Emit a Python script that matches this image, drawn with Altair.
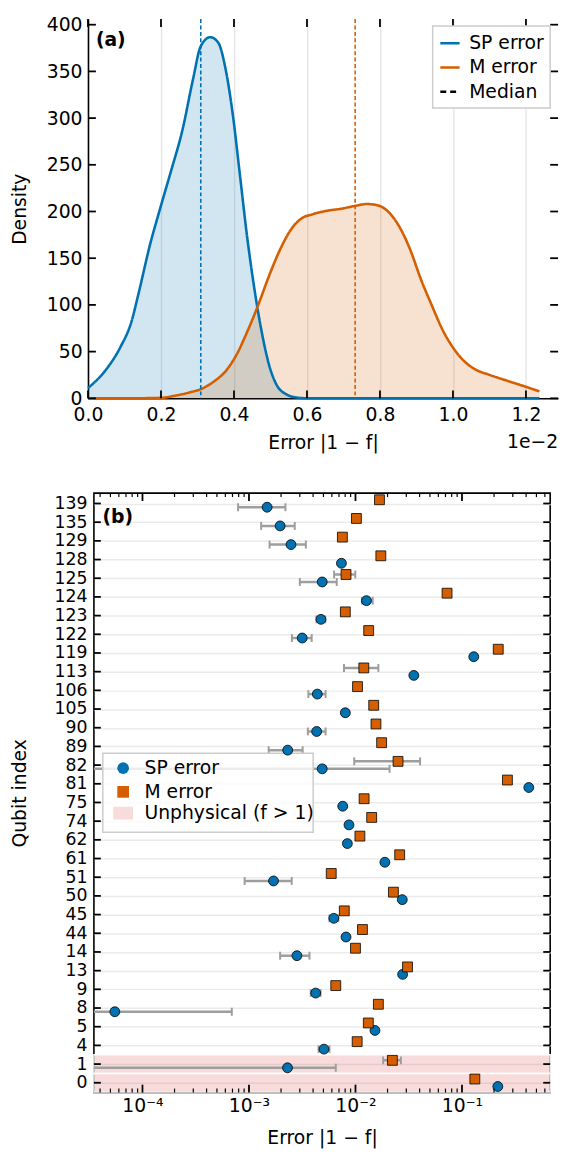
import json
import altair as alt
import pandas as pd

BLUE = "#0072B2"
ORANGE = "#D55E00"
FONT = "DejaVu Sans"

# ---------------- panel (a): density curves (x in units of 1e-2) ----------------
sp_x = [0.0, 0.05, 0.089, 0.119, 0.139, 0.169, 0.199, 0.228, 0.258, 0.288, 0.309, 0.335,
        0.357, 0.377, 0.397, 0.416, 0.436, 0.456, 0.476, 0.496, 0.516, 0.545, 0.575, 0.605,
        0.8, 1.0, 1.237]
sp_y = [11, 31, 55, 82, 113, 163, 205, 244, 286, 342, 377, 386.6,
        380.7, 352.5, 303, 240, 173, 117, 71, 36, 15, 4, 0.7, 0,
        0, 0, 0]
m_x = [0.0, 0.1, 0.2, 0.238, 0.278, 0.309, 0.347, 0.377, 0.407, 0.436, 0.466, 0.496,
       0.526, 0.555, 0.585, 0.615, 0.654, 0.694, 0.732, 0.764, 0.793, 0.823, 0.853,
       0.883, 0.912, 0.942, 0.972, 1.001, 1.031, 1.061, 1.101, 1.150, 1.200, 1.237]
m_y = [0, 0, 0.5, 2.8, 6.3, 9.8, 18.6, 29, 46.7, 71, 99.5, 131,
       159, 180, 192.6, 197, 200.7, 203, 206, 208, 206.7, 199.6, 183.8,
       159, 127.6, 99.5, 73, 53.8, 39.7, 31, 25, 18.6, 12.3, 7.4]
sp_median = 0.309
m_median = 0.732
a_xticks = [0.0, 0.2, 0.4, 0.6, 0.8, 1.0, 1.2]
a_yticks = [0, 50, 100, 150, 200, 250, 300, 350, 400]
a_legend = ["SP error", "M error", "Median"]

# ---------------- panel (b): per-qubit errors ----------------
qubits = ["139", "135", "129", "128", "125", "124", "123", "122", "119", "113", "106",
          "105", "90", "89", "82", "81", "75", "74", "62", "61", "51", "50", "45", "44",
          "14", "13", "9", "8", "5", "4", "1", "0"]
sp_val = [1.48e-3, 1.96e-3, 2.48e-3, 7.38e-3, 4.87e-3, 1.268e-2, 4.74e-3, 3.16e-3, 0.129,
          0.0353, 4.38e-3, 8.03e-3, 4.32e-3, 2.31e-3, 4.87e-3, 0.424, 7.59e-3, 8.69e-3,
          8.39e-3, 0.01888, 1.70e-3, 0.0275, 6.26e-3, 8.15e-3, 2.82e-3, 0.0277, 4.23e-3,
          5.5e-5, 0.01524, 5.06e-3, 2.30e-3, 0.217]
sp_lo = [7.9e-4, 1.30e-3, 1.56e-3, None, 3.0e-3, 1.15e-2, 4.3e-3, 2.53e-3, None, None,
         3.61e-3, None, 3.57e-3, 1.53e-3, 1e-5, None, None, None, None, None, 9.1e-4,
         None, 5.7e-3, None, 1.96e-3, None, 3.8e-3, 1e-5, None, 4.5e-3, 1e-5, None]
sp_hi = [2.2e-3, 2.69e-3, 3.42e-3, None, 6.67e-3, 1.45e-2, 5.2e-3, 3.88e-3, None, None,
         5.24e-3, None, 5.24e-3, 3.19e-3, 0.0209, None, None, None, None, None, 2.52e-3,
         None, 6.9e-3, None, 3.70e-3, None, 4.7e-3, 6.9e-4, None, 5.7e-3, 6.53e-3, None]
m_val = [0.0168, 0.0102, 7.53e-3, 0.0173, 8.15e-3, 0.0724, 8.03e-3, 0.0133, 0.219, 0.01197,
         0.01045, 0.01483, 0.01557, 0.0176, 0.0251, 0.267, 0.01205, 0.01419, 0.0110, 0.0260,
         5.92e-3, 0.0227, 7.85e-3, 0.01163, 0.0100, 0.0308, 6.53e-3, 0.0164, 0.0132,
         0.01037, 0.0222, 0.132]
m_lo = [None, None, None, None, 6.3e-3, None, None, None, None, 7.8e-3, None, None, None,
        None, 9.73e-3, None, None, None, None, None, 5.5e-3, None, None, None, None, None,
        None, None, None, None, 0.0182, None]
m_hi = [None, None, None, None, 9.95e-3, None, None, None, None, 0.0164, None, None, None,
        None, 0.0404, None, None, None, None, None, 6.4e-3, None, None, None, None, None,
        None, None, None, None, 0.0267, None]
unphysical = ["1", "0"]
unphys_label = "Unphysical (f > 1)"
b_major = [1e-4, 1e-3, 1e-2, 1e-1]
b_major_labels = ["10⁻⁴", "10⁻³", "10⁻²", "10⁻¹"]
b_minor = [4e-5, 5e-5, 6e-5, 7e-5, 8e-5, 9e-5,
           2e-4, 3e-4, 4e-4, 5e-4, 6e-4, 7e-4, 8e-4, 9e-4,
           2e-3, 3e-3, 4e-3, 5e-3, 6e-3, 7e-3, 8e-3, 9e-3,
           2e-2, 3e-2, 4e-2, 5e-2, 6e-2, 7e-2, 8e-2, 9e-2,
           2e-1, 3e-1, 4e-1, 5e-1, 6e-1]
b_legend = ["SP error", "M error"]

# ================= panel (a) =================
SH = 6                      # panel (a) starts 6 px left of panel (b)
W1, H1 = 470, 384
TK = 8
x1 = alt.Scale(domain=[0, 1.288], range=[-SH, W1], nice=False, zero=False)
y1 = alt.Scale(domain=[0, 406], nice=False, zero=False)

curves = pd.DataFrame({
    "series": ["SP error"] * len(sp_x) + ["M error"] * len(m_x),
    "x": sp_x + m_x,
    "y": sp_y + m_y,
})
medians = pd.DataFrame({"series": ["SP error", "M error"], "x": [sp_median, m_median]})

xaxis1 = alt.Axis(values=a_xticks, format=".1f", title="Error |1 − f|", grid=True,
                  gridColor="#e6e6e6", gridWidth=1.4, ticks=False, domain=True,
                  domainColor="black", domainWidth=1.6, labelFontSize=19, labelPadding=7,
                  titleFontSize=19, titleFontWeight="normal", titlePadding=10,
                  labelFlush=False, labelOverlap=False, titleX=(W1 - SH) / 2)
yaxis1 = alt.Axis(values=a_yticks, title="Density", grid=False, ticks=False, domain=True,
                  domainColor="black", domainWidth=1.6, labelFontSize=19, labelPadding=6,
                  titleFontSize=19, titleFontWeight="normal", titlePadding=16.7,
                  labelFlush=False, labelOverlap=False, offset=SH)

legend_a = alt.Legend(title=None, orient="none", legendX=343, legendY=7,
                      fillColor="white", strokeColor="#cccccc", padding=6,
                      labelFontSize=19, labelFont=FONT, labelColor="black",
                      symbolType="stroke", symbolSize=380, symbolStrokeWidth=2.6,
                      labelOffset=8, rowPadding=2.5)

X1 = lambda f: alt.X(f, scale=x1, axis=xaxis1)
Y1 = lambda f, **kw: alt.Y(f, scale=y1, axis=yaxis1, **kw)

areas = alt.Chart(curves).mark_area(opacity=0.18, interpolate="monotone").encode(
    x=X1("x:Q"),
    y=Y1("y:Q", stack=None),
    fill=alt.Fill("series:N", scale=alt.Scale(domain=["SP error", "M error"],
                                              range=[BLUE, ORANGE]), legend=None),
)
lines = alt.Chart(curves).mark_line(strokeWidth=2.6, interpolate="monotone").encode(
    x=X1("x:Q"),
    y=Y1("y:Q"),
    stroke=alt.Stroke("series:N", scale=alt.Scale(domain=a_legend,
                                                  range=[BLUE, ORANGE, "black"]),
                      legend=legend_a),
    strokeDash=alt.StrokeDash("series:N", scale=alt.Scale(domain=a_legend,
                                                          range=[[1, 0], [1, 0], [6, 4]]),
                              legend=legend_a),
)
med_rules = alt.Chart(medians).mark_rule(strokeWidth=1.6, strokeDash=[4, 2.5]).encode(
    x=X1("x:Q"),
    stroke=alt.Stroke("series:N", scale=alt.Scale(domain=a_legend,
                                                  range=[BLUE, ORANGE, "black"]),
                      legend=legend_a),
)
xt1 = pd.DataFrame({"x": a_xticks})
yt1 = pd.DataFrame({"y": a_yticks})
tick_style = dict(color="black", strokeWidth=1.8)
a_bottom = alt.Chart(xt1).mark_rule(**tick_style).encode(
    x=X1("x:Q"), y=alt.value(H1), y2=alt.value(H1 - TK))
a_top = alt.Chart(xt1).mark_rule(**tick_style).encode(
    x=X1("x:Q"), y=alt.value(0), y2=alt.value(TK))
a_left = alt.Chart(yt1).mark_rule(**tick_style).encode(
    y=Y1("y:Q"), x=alt.value(-SH), x2=alt.value(TK - SH))
a_right = alt.Chart(yt1).mark_rule(**tick_style).encode(
    y=Y1("y:Q"), x=alt.value(W1), x2=alt.value(W1 - TK))
label_a = alt.Chart(pd.DataFrame({"t": ["(a)"]})).mark_text(
    align="left", baseline="middle", fontSize=19, fontWeight="bold", font=FONT,
    color="black").encode(text="t:N", x=alt.value(2), y=alt.value(21.5))
offset_a = alt.Chart(pd.DataFrame({"t": ["1e−2"]})).mark_text(
    align="right", baseline="middle", fontSize=19, font=FONT, color="black").encode(
    text="t:N", x=alt.value(W1), y=alt.value(H1 + 44))

top = alt.layer(areas, lines, med_rules, a_bottom, a_top, a_left, a_right,
                label_a, offset_a).properties(width=W1, height=H1)

# ================= panel (b) =================
W2, H2 = 462, 607
n = len(qubits)
x2 = alt.Scale(type="log", domain=[3.5e-5, 0.673], nice=False)
y2 = alt.Scale(domain=[-0.525, n - 1 + 0.555], nice=False, zero=False)

rows = []
for k, q in enumerate(qubits):
    p = n - 1 - k
    rows.append(dict(qubit=q, series="SP error", pos=p - 0.2, value=sp_val[k],
                     lo=sp_lo[k], hi=sp_hi[k]))
    rows.append(dict(qubit=q, series="M error", pos=p + 0.2, value=m_val[k],
                     lo=m_lo[k], hi=m_hi[k]))
pts = pd.DataFrame(rows)
errs = pts.dropna(subset=["lo"]).copy()
caps = pd.concat([errs[["pos", "lo"]].rename(columns={"lo": "value"}),
                  errs[["pos", "hi"]].rename(columns={"hi": "value"})])
band_df = pd.DataFrame({"q": unphysical})
band_df["p"] = [n - 1 - qubits.index(q) for q in unphysical]
band_df["pos"] = band_df["p"] - 0.5
band_df["pos_hi"] = band_df["p"] + 0.5
band_df["lab"] = unphys_label

labels_by_pos = list(reversed(qubits))
xaxis2 = alt.Axis(values=b_major,
                  labelExpr=json.dumps(b_major_labels, ensure_ascii=False)
                  + "[round(log(datum.value)/LN10)+4]",
                  title="Error |1 − f|", grid=False, ticks=False, domain=False,
                  labelFontSize=19, labelPadding=4, titleFontSize=19,
                  titleFontWeight="normal", titlePadding=14, labelFlush=False,
                  labelOverlap=False)
yaxis2 = alt.Axis(values=list(range(n)),
                  labelExpr=json.dumps(labels_by_pos) + "[datum.value]",
                  title="Qubit index", grid=True, gridColor="#ebebeb", gridWidth=1.5,
                  ticks=False, domain=False, labelFontSize=17.5, labelPadding=7,
                  titleFontSize=19, titleFontWeight="normal", titlePadding=24.6,
                  labelFlush=False, labelOverlap=False)
X2 = lambda f: alt.X(f, scale=x2, axis=xaxis2)
Y2 = lambda f: alt.Y(f, scale=y2, axis=yaxis2)

RECT_PATH = "M-1.7,-1.1H1.7V1.1H-1.7Z"
LEG_X, LEG_Y = 9, 263.5        # legend box (relative to plot area)
LEG_W, LEG_H = 213, 80
common_leg = dict(title=None, orient="none", legendX=20.1, padding=0,
                  labelFontSize=19, labelFont=FONT, labelColor="black", labelLimit=400,
                  symbolSize=140, labelOffset=12.1, rowPadding=4,
                  strokeColor="transparent")
legend_pts = alt.Legend(legendY=269, symbolStrokeColor="black",
                        symbolStrokeWidth=0.8, symbolOpacity=1, **common_leg)
legend_band = alt.Legend(legendY=314.5, symbolType=RECT_PATH, symbolOpacity=0.16,
                         symbolStrokeWidth=0, **common_leg)

band = alt.Chart(band_df).mark_rect(fillOpacity=0.16, stroke="white",
                                    strokeWidth=1.5, strokeOpacity=1).encode(
    y=Y2("pos:Q"), y2="pos_hi:Q", x=alt.value(0), x2=alt.value(W2),
    fill=alt.Fill("lab:N", scale=alt.Scale(domain=[unphys_label], range=["#d62728"]),
                  legend=legend_band))
err_rules = alt.Chart(errs).mark_rule(color="#9e9e9e", strokeWidth=2.5, clip=True).encode(
    x=X2("lo:Q"), x2="hi:Q", y=Y2("pos:Q"))
err_caps = alt.Chart(caps).mark_tick(color="#9e9e9e", orient="vertical", size=8,
                                     thickness=2, clip=True, opacity=1).encode(
    x=X2("value:Q"), y=Y2("pos:Q"))
leg_box = alt.Chart(pd.DataFrame({"k": [0]})).mark_rect(
    fill="white", fillOpacity=0.8, stroke="#cccccc", strokeWidth=1.5).encode(
    x=alt.value(LEG_X), x2=alt.value(LEG_X + LEG_W),
    y=alt.value(LEG_Y), y2=alt.value(LEG_Y + LEG_H))
points = alt.Chart(pts).mark_point(filled=True, size=100, stroke="black", strokeWidth=0.8,
                                   opacity=1).encode(
    x=X2("value:Q"),
    y=Y2("pos:Q"),
    color=alt.Color("series:N", scale=alt.Scale(domain=b_legend, range=[BLUE, ORANGE]),
                    legend=legend_pts),
    shape=alt.Shape("series:N", scale=alt.Scale(domain=b_legend,
                                                range=["circle", "square"]),
                    legend=legend_pts),
)
majb = pd.DataFrame({"value": b_major})
minb = pd.DataFrame({"value": b_minor})
posb = pd.DataFrame({"pos": list(range(n))})
b_ticks = [
    alt.Chart(majb).mark_rule(**tick_style).encode(
        x=X2("value:Q"), y=alt.value(H2), y2=alt.value(H2 - 8)),
    alt.Chart(majb).mark_rule(**tick_style).encode(
        x=X2("value:Q"), y=alt.value(0), y2=alt.value(8)),
    alt.Chart(minb).mark_rule(color="black", strokeWidth=1.2).encode(
        x=X2("value:Q"), y=alt.value(H2), y2=alt.value(H2 - 4)),
    alt.Chart(minb).mark_rule(color="black", strokeWidth=1.2).encode(
        x=X2("value:Q"), y=alt.value(0), y2=alt.value(4)),
    alt.Chart(posb).mark_rule(**tick_style).encode(
        y=Y2("pos:Q"), x=alt.value(0), x2=alt.value(7)),
    alt.Chart(posb).mark_rule(**tick_style).encode(
        y=Y2("pos:Q"), x=alt.value(W2), x2=alt.value(W2 - 7)),
]
label_b = alt.Chart(pd.DataFrame({"t": ["(b)"]})).mark_text(
    align="left", baseline="middle", fontSize=19, fontWeight="bold", font=FONT,
    color="black").encode(text="t:N", x=alt.value(8.7), y=alt.value(24.6))

bottom = alt.layer(band, err_rules, err_caps, leg_box, points, *b_ticks, label_b).properties(
    width=W2, height=H2, view=alt.ViewBackground(stroke="black", strokeWidth=1.6))

chart = alt.vconcat(top, bottom, spacing=39).resolve_scale(
    color="independent", fill="independent", shape="independent",
    stroke="independent", strokeDash="independent"
).resolve_legend(
    color="independent", fill="independent", shape="independent",
    stroke="independent", strokeDash="independent"
).properties(
    padding={"left": 2, "top": 0, "right": 0, "bottom": 0}
).configure(font=FONT).configure_view(stroke=None).configure_axis(
    labelColor="black", titleColor="black", labelFont=FONT, titleFont=FONT
).configure_legend(strokeWidth=1.5)

chart.save("out.html", embed_options={"renderer": "svg", "actions": False})
